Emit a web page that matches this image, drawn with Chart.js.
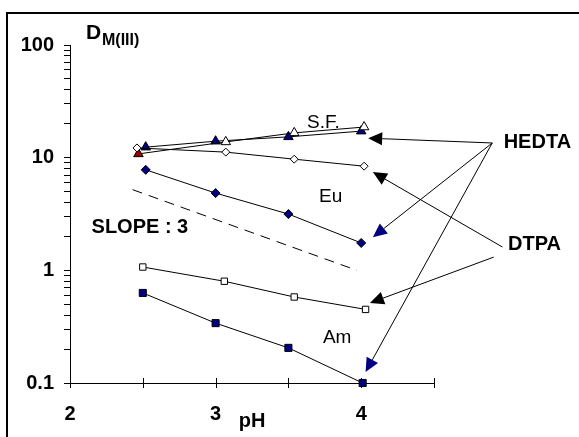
<!DOCTYPE html>
<html>
<head>
<meta charset="utf-8">
<script src="https://cdn.jsdelivr.net/npm/chart.js@4/dist/chart.umd.min.js"></script>
<style>
  html, body { margin: 0; padding: 0; background: #fff; }
  #wrap { width: 579px; height: 437px; position: relative; }
</style>
</head>
<body>
<div id="wrap"><canvas id="chart" width="579" height="437"></canvas></div>
<script>
// values (pH, D)
const amHedtaX = [2.5, 3.0, 3.5, 4.01];
const amHedtaY = [0.63, 0.34, 0.205, 0.1];
const amDtpaX = [2.5, 3.06, 3.54, 4.03];
const amDtpaY = [1.07, 0.80, 0.58, 0.45];
const euHedtaX = [2.52, 3.0, 3.5, 4.0];
const euHedtaY = [7.8, 4.85, 3.16, 1.75];
const euDtpaX = [2.46, 3.07, 3.54, 4.02];
const euDtpaY = [12.2, 11.2, 9.7, 8.4];
const sfHedtaX = [2.52, 3.0, 3.5, 4.0];
const sfHedtaY = [12.4, 14.0, 15.3, 17.2];
const sfDtpaX = [2.47, 3.07, 3.54, 4.02];
const sfDtpaY = [10.8, 13.8, 16.6, 18.7];
const slopeX = [2.43, 3.97];
const slopeY = [5.2, 1.0];

const xTicks = [2, 2.5, 3, 3.5, 4, 4.5];
const xLabels = ["2", "", "3", "", "4", ""];
const yTicks = [0.1, 0.2, 0.3, 0.4, 0.5, 0.6, 0.7, 0.8, 0.9,
                1, 2, 3, 4, 5, 6, 7, 8, 9,
                10, 20, 30, 40, 50, 60, 70, 80, 90, 100];
const yLabels = { 0.1: "0.1", 1: "1", 10: "10", 100: "100" };

// text notes and arrows, in data units
const notes = [
  { text: "S.F.", x: 3.74, y: 20.3, bold: false },
  { text: "Eu", x: 3.79, y: 4.47, bold: false },
  { text: "Am", x: 3.835, y: 0.251, bold: false },
  { text: "SLOPE : 3", x: 2.48, y: 2.42, bold: true },
  { text: "HEDTA", x: 5.21, y: 13.7, bold: true },
  { text: "DTPA", x: 5.19, y: 1.68, bold: true }
];
const arrows = [
  { from: [4.90, 13.5], to: [4.048, 14.9], head: "#000000" },
  { from: [4.90, 13.5], to: [4.08, 1.97], head: "#000080" },
  { from: [4.90, 13.5], to: [4.03, 0.125], head: "#000080" },
  { from: [4.97, 1.61], to: [4.08, 7.45], head: "#000000" },
  { from: [4.91, 1.31], to: [4.06, 0.513], head: "#000000" }
];

const FONT = "'Liberation Sans', Arial, sans-serif";
const NAVY = "#000080";

function pts(xs, ys) {
  return xs.map((x, i) => ({ x: x, y: ys[i] }));
}

function series(label, xs, ys, style, fill, radius) {
  return {
    label: label,
    data: pts(xs, ys),
    borderColor: "#000",
    borderWidth: 1,
    pointStyle: style,
    pointRadius: radius,
    pointBackgroundColor: fill,
    pointBorderColor: "#000",
    pointBorderWidth: 1,
    showLine: true,
    tension: 0,
    clip: false
  };
}

const datasets = [
  series("Am HEDTA", amHedtaX, amHedtaY, "rect", NAVY, 5),
  series("Am DTPA", amDtpaX, amDtpaY, "rect", "#fff", 4.5),
  series("Eu HEDTA", euHedtaX, euHedtaY, "rectRot", NAVY, 4.5),
  series("Eu DTPA", euDtpaX, euDtpaY, "rectRot", "#fff", 4),
  series("S.F. DTPA", sfDtpaX, sfDtpaY, "triangle", ["#990000", "#fff", "#fff", "#fff"], 5.5),
  series("S.F. HEDTA", sfHedtaX, sfHedtaY, "triangle", NAVY, 5.5),
  {
    label: "slope",
    data: pts(slopeX, slopeY),
    borderColor: "#000",
    borderWidth: 1,
    borderDash: [10, 7],
    pointRadius: 0,
    showLine: true
  }
];

const extras = {
  id: "extras",
  beforeDraw(chart) {
    const ctx = chart.ctx;
    ctx.save();
    ctx.fillStyle = "#fff";
    ctx.fillRect(0, 0, chart.width, chart.height);
    // outer frame
    ctx.strokeStyle = "#000";
    ctx.lineWidth = 2;
    ctx.beginPath();
    ctx.moveTo(7, chart.height + 5);
    ctx.lineTo(7, 13);
    ctx.lineTo(chart.width + 5, 13);
    ctx.stroke();
    ctx.restore();
  },
  afterDraw(chart) {
    const ctx = chart.ctx;
    const xs = chart.scales.x, ys = chart.scales.y;
    const a = chart.chartArea;
    ctx.save();
    ctx.strokeStyle = "#000";
    ctx.lineWidth = 1;
    // x tick marks cross the axis
    ctx.beginPath();
    xTicks.forEach(t => {
      const px = Math.round(xs.getPixelForValue(t)) + 0.5;
      ctx.moveTo(px, a.bottom - 5);
      ctx.lineTo(px, a.bottom + 5);
    });
    ctx.stroke();

    // arrows
    arrows.forEach(ar => {
      const x0 = xs.getPixelForValue(ar.from[0]), y0 = ys.getPixelForValue(ar.from[1]);
      const x1 = xs.getPixelForValue(ar.to[0]), y1 = ys.getPixelForValue(ar.to[1]);
      const ang = Math.atan2(y1 - y0, x1 - x0);
      const len = 14, half = 6.5;
      const bx = x1 - len * Math.cos(ang), by = y1 - len * Math.sin(ang);
      ctx.strokeStyle = "#000";
      ctx.lineWidth = 1;
      ctx.beginPath();
      ctx.moveTo(x0, y0);
      ctx.lineTo(bx, by);
      ctx.stroke();
      ctx.fillStyle = ar.head;
      ctx.beginPath();
      ctx.moveTo(x1, y1);
      ctx.lineTo(bx + half * Math.sin(ang), by - half * Math.cos(ang));
      ctx.lineTo(bx - half * Math.sin(ang), by + half * Math.cos(ang));
      ctx.closePath();
      ctx.fill();
    });

    // notes
    ctx.fillStyle = "#000";
    ctx.textAlign = "center";
    ctx.textBaseline = "middle";
    notes.forEach(n => {
      ctx.font = (n.bold ? "bold 20px " : "19px ") + FONT;
      ctx.fillText(n.text, xs.getPixelForValue(n.x), ys.getPixelForValue(n.y));
    });

    // axis title D with subscript
    ctx.textAlign = "left";
    ctx.textBaseline = "alphabetic";
    ctx.font = "bold 21px " + FONT;
    ctx.fillText("D", a.left + 16, a.top - 6);
    ctx.font = "bold 16px " + FONT;
    ctx.fillText("M(III)", a.left + 32, a.top);
    ctx.restore();
  }
};

new Chart(document.getElementById("chart").getContext("2d"), {
  type: "scatter",
  data: { datasets: datasets },
  plugins: [extras],
  options: {
    responsive: false,
    animation: false,
    events: [],
    layout: { padding: { left: 0, top: 45, right: 145, bottom: 0 } },
    plugins: { legend: { display: false }, tooltip: { enabled: false } },
    scales: {
      x: {
        type: "linear",
        min: 2,
        max: 4.5,
        afterBuildTicks: s => { s.ticks = xTicks.map(v => ({ value: v })); },
        afterFit: s => { s.height = 54; },
        grid: { display: false, drawTicks: false },
        border: { display: true, color: "#000", width: 1 },
        ticks: {
          autoSkip: false,
          maxRotation: 0,
          padding: 19,
          color: "#000",
          font: { family: FONT, size: 20, weight: "bold" },
          callback: (v, i) => xLabels[i]
        },
        title: {
          display: true,
          text: "pH",
          color: "#000",
          font: { family: FONT, size: 20, weight: "bold" },
          padding: { top: 0, bottom: 4 }
        }
      },
      y: {
        type: "logarithmic",
        min: 0.1,
        max: 100,
        afterBuildTicks: s => { s.ticks = yTicks.map(v => ({ value: v })); },
        afterFit: s => { s.width = 70; },
        grid: {
          display: true,
          drawOnChartArea: false,
          drawTicks: true,
          tickLength: 6,
          color: "#000",
          lineWidth: 1
        },
        border: { display: true, color: "#000", width: 1 },
        ticks: {
          autoSkip: false,
          padding: 10,
          color: "#000",
          font: { family: FONT, size: 20, weight: "bold" },
          callback: v => yLabels[v] || ""
        }
      }
    }
  }
});
</script>
</body>
</html>
